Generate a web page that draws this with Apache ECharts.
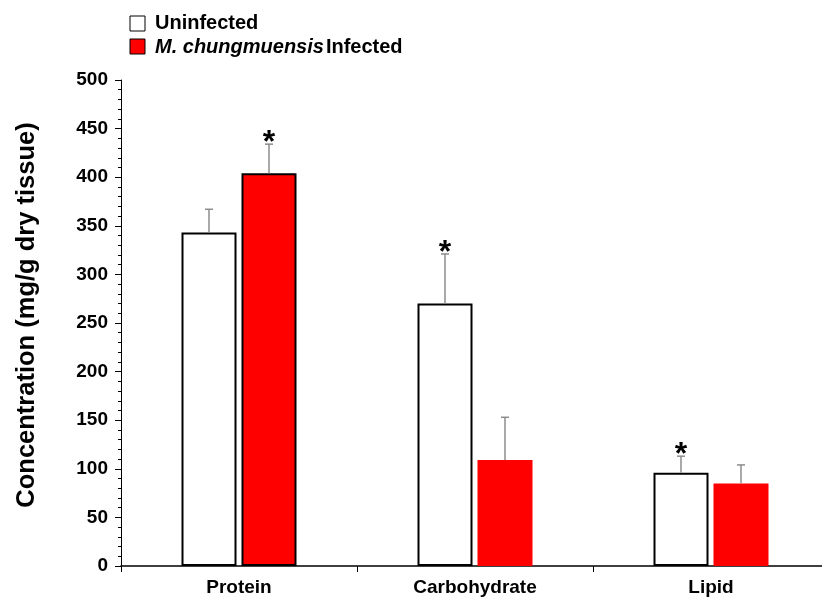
<!DOCTYPE html>
<html>
<head>
<meta charset="utf-8">
<script src="https://cdn.jsdelivr.net/npm/echarts@6/dist/echarts.min.js"></script>
<style>
  html, body { margin: 0; padding: 0; background: #fff; }
  #chart { width: 822px; height: 600px; }
</style>
</head>
<body>
<div id="chart"></div>
<script>
// Tissue composition, mean + SD (mg/g dry tissue)
const categories = ['Protein', 'Carbohydrate', 'Lipid'];
const uninfected = [343, 270, 96];
const uninfectedSD = [24, 51, 17];
const uninfectedSig = [false, true, true];
const infected = [404, 109, 85];
const infectedSD = [30, 44, 19];
const infectedSig = [true, false, false];
const infectedBordered = [true, false, false];
const yTicks = { min: 0, max: 500, step: 50 };

const FONT = '"Liberation Sans", Arial, sans-serif';
const BAR_W = 55;
const BAR_GAP = 5;
const HALF = (BAR_W + BAR_GAP) / 2;

function errorSeries(name, means, sds, sig, dx) {
  return {
    name: name,
    type: 'custom',
    z: 5,
    data: means.map((m, i) => [i, m, sds[i], sig[i] ? 1 : 0]),
    renderItem: function (params, api) {
      const i = api.value(0);
      const mean = api.value(1);
      const sd = api.value(2);
      const base = api.coord([i, mean]);
      const top = api.coord([i, mean + sd]);
      const x = base[0] + dx;
      const children = [
        { type: 'line', shape: { x1: x, y1: base[1], x2: x, y2: top[1] },
          style: { stroke: '#8c8c8c', lineWidth: 1.5 } },
        { type: 'line', shape: { x1: x - 4, y1: top[1], x2: x + 4, y2: top[1] },
          style: { stroke: '#8c8c8c', lineWidth: 1.5 } }
      ];
      if (api.value(3)) {
        children.push({ type: 'text', x: x, y: top[1] - 1,
          style: { text: '*', fill: '#000', font: 'bold 32px ' + FONT,
                   align: 'center', verticalAlign: 'middle' } });
      }
      return { type: 'group', children: children };
    }
  };
}

const chart = echarts.init(document.getElementById('chart'));
chart.setOption({
  animation: false,
  backgroundColor: '#fff',
  grid: { left: 121, top: 80, bottom: 34, right: -7, containLabel: false, outerBoundsMode: 'none' },
  xAxis: {
    type: 'category',
    data: categories,
    axisLine: { show: true, lineStyle: { color: '#000', width: 1.5 } },
    axisTick: { show: true, length: 6, lineStyle: { color: '#000' } },
    axisLabel: { color: '#000', fontFamily: FONT, fontWeight: 'bold', fontSize: 19, margin: 12 },
    splitLine: { show: false }
  },
  yAxis: {
    type: 'value',
    min: yTicks.min, max: yTicks.max, interval: yTicks.step,
    name: 'Concentration (mg/g dry tissue)',
    nameLocation: 'middle',
    nameRotate: 90,
    nameGap: 81,
    nameTextStyle: { color: '#000', fontFamily: FONT, fontWeight: 'bold', fontSize: 25.5,
                     padding: [0, 0, 0, 16] },
    axisLine: { show: true, lineStyle: { color: '#000', width: 1 } },
    axisTick: { show: true, length: 6, lineStyle: { color: '#000' } },
    minorTick: { show: true, splitNumber: 5, length: 3, lineStyle: { color: '#000' } },
    axisLabel: { color: '#000', fontFamily: FONT, fontWeight: 'bold', fontSize: 19, margin: 13 },
    splitLine: { show: false }
  },
  graphic: [
    { type: 'rect', shape: { x: 130, y: 16, width: 15, height: 15 },
      style: { fill: '#fff', stroke: '#000', lineWidth: 1 } },
    { type: 'text', x: 155, y: 23,
      style: { text: 'Uninfected', fill: '#000', font: 'bold 20px ' + FONT, verticalAlign: 'middle' } },
    { type: 'rect', shape: { x: 130, y: 39, width: 15, height: 15 },
      style: { fill: '#ff0000', stroke: '#000', lineWidth: 1 } },
    { type: 'text', x: 155, y: 47,
      style: {
        text: '{i|M. chungmuensis}{n|Infected}',
        verticalAlign: 'middle',
        rich: {
          i: { font: 'italic bold 20px ' + FONT, fill: '#000' },
          n: { font: 'bold 20px ' + FONT, fill: '#000', padding: [0, 0, 0, 2] }
        }
      } }
  ],
  series: [
    {
      name: 'Uninfected',
      type: 'bar',
      barWidth: BAR_W,
      barGap: (BAR_GAP / BAR_W * 100).toFixed(2) + '%',
      data: uninfected,
      itemStyle: { color: '#fff', borderColor: '#000', borderWidth: 2 }
    },
    {
      name: 'M. chungmuensis Infected',
      type: 'bar',
      barWidth: BAR_W,
      data: infected.map((v, i) => ({
        value: v,
        itemStyle: infectedBordered[i]
          ? { color: '#ff0000', borderColor: '#000', borderWidth: 2 }
          : { color: '#ff0000', borderWidth: 0 }
      }))
    },
    errorSeries('Uninfected SD', uninfected, uninfectedSD, uninfectedSig, -HALF),
    errorSeries('Infected SD', infected, infectedSD, infectedSig, HALF)
  ]
});
</script>
</body>
</html>
